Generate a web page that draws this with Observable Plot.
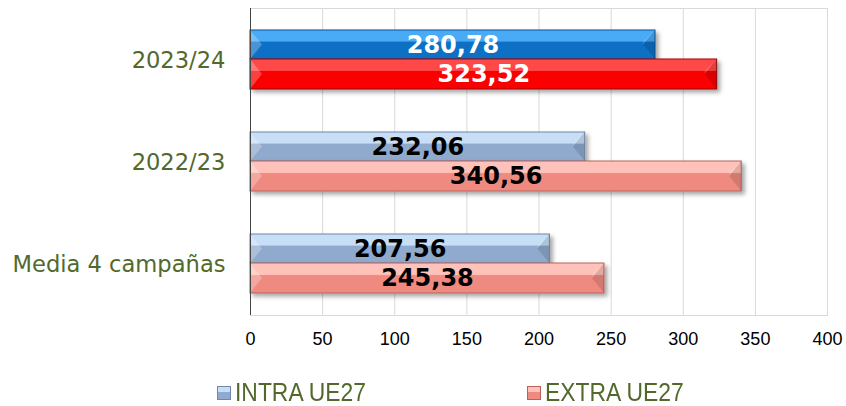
<!DOCTYPE html>
<html><head><meta charset="utf-8">
<script src="https://cdn.jsdelivr.net/npm/d3@7"></script>
<script src="https://cdn.jsdelivr.net/npm/@observablehq/plot@0.6"></script>
<style>
body{margin:0;background:#fff;width:846px;height:406px;overflow:hidden}
#legend{position:relative;height:41px;font-family:"Liberation Sans",sans-serif;font-size:26px;color:#53692c}
.item{position:absolute;top:12px;display:flex;align-items:center;white-space:nowrap}
.sw{width:14px;height:14px;margin-right:4px;box-sizing:border-box;border:1px solid #777;}
.lt{display:inline-block;transform:scaleX(0.88);transform-origin:left center}
</style></head><body>
<div id="chart"></div>
<div id="legend"></div>
<script>
const categories = ["2023/24", "2022/23", "Media 4 campañas"];
const intraValues = [280.78, 232.06, 207.56];
const extraValues = [323.52, 340.56, 245.38];
const seriesNames = ["INTRA UE27", "EXTRA UE27"];
const xTicks = [0, 50, 100, 150, 200, 250, 300, 350, 400];

// styles
const palette = {
  intraHi: {light: "#4aaaf6", base: "#0d6fc4", stroke: "#0a5596"},
  extraHi: {light: "#ff4a4a", base: "#fa0000", stroke: "#a00000"},
  intra:   {light: "#c8def6", base: "#8faacd", stroke: "#6f88aa"},
  extra:   {light: "#ffc2ba", base: "#ef8a80", stroke: "#b8625a"}
};
const olive = "#53692c";

const rows = categories.flatMap((c, i) => [
  {category: c, series: seriesNames[0], value: intraValues[i], style: i === 0 ? "intraHi" : "intra", slot: 0, labelFill: i === 0 ? "white" : "black"},
  {category: c, series: seriesNames[1], value: extraValues[i], style: i === 0 ? "extraHi" : "extra", slot: 1, labelFill: i === 0 ? "white" : "black"}
]);

const fmt = v => v.toFixed(2).replace(".", ",");
const insets = [{top: 21, bottom: 52, dy: -15}, {top: 50, bottom: 22, dy: 14}];

const barMarks = rows.map(r => Plot.barX([r], {
  x: "value", y: "category",
  insetTop: insets[r.slot].top, insetBottom: insets[r.slot].bottom,
  fill: `url(#grad-${r.style})`, stroke: palette[r.style].stroke, strokeWidth: 1,
  className: "bevelbar"
}));

// bevel triangles drawn with the plot scales
function bevelMark(index, scales, values, dimensions) {
  const {x, y} = scales;
  const bw = y.bandwidth ? y.bandwidth() : (dimensions.height - dimensions.marginTop - dimensions.marginBottom) / categories.length;
  const g = d3.create("svg:g");
  for (const r of rows) {
    const x0 = x(0), x1 = x(r.value);
    const y0 = y(r.category) + insets[r.slot].top;
    const y1 = y(r.category) + bw - insets[r.slot].bottom;
    const h = y1 - y0, d = Math.min(12, h / 2);
    g.append("path").attr("d", `M${x0},${y0}L${x0 + d},${y0 + h / 2}L${x0},${y1}Z`).attr("fill", "white").attr("fill-opacity", 0.25);
    g.append("path").attr("d", `M${x1},${y0}L${x1 - d},${y0 + h / 2}L${x1},${y1}Z`).attr("fill", "black").attr("fill-opacity", 0.12);
    g.append("path").attr("d", `M${x1},${y0}L${x1 - d},${y0 + h / 2}L${x1 - d},${y0 + h * 0.4}Z`).attr("fill", "white").attr("fill-opacity", 0.15);
  }
  return g.node();
}

const plot = Plot.plot({
  width: 846, height: 365,
  marginLeft: 250, marginRight: 19, marginTop: 8, marginBottom: 50,
  x: {domain: [0, 400], ticks: xTicks, label: null},
  y: {domain: categories, padding: 0, label: null},
  style: {background: "white"},
  marks: [
    Plot.gridX(xTicks, {stroke: "#d9d9d9", strokeOpacity: 1}),
    Plot.frame({stroke: "#d9d9d9"}),
    ...barMarks,
    bevelMark,
    Plot.ruleX([0], {stroke: "#444"}),
    ...rows.map(r => Plot.text([r], {
      x: d => d.value / 2, y: "category", text: d => fmt(d.value),
      dy: insets[r.slot].dy, fill: r.labelFill,
      fontSize: 24, fontWeight: "bold", fontFamily: "DejaVu Sans"
    })),
    Plot.axisX(xTicks, {tickSize: 0, tickPadding: 17, fontSize: 18, fontFamily: "Liberation Sans", fill: "black", label: null}),
    Plot.axisY({tickSize: 0, tickPadding: 25, fontSize: 22.6, fontFamily: "DejaVu Sans", fill: olive, label: null})
  ]
});

const svg = d3.select(plot);
const defs = svg.insert("defs", ":first-child");
for (const [k, p] of Object.entries(palette)) {
  const lg = defs.append("linearGradient").attr("id", `grad-${k}`).attr("x1", 0).attr("y1", 0).attr("x2", 0).attr("y2", 1);
  lg.append("stop").attr("offset", "0%").attr("stop-color", p.light);
  lg.append("stop").attr("offset", "38%").attr("stop-color", p.light);
  lg.append("stop").attr("offset", "42%").attr("stop-color", p.base);
  lg.append("stop").attr("offset", "100%").attr("stop-color", p.base);
}
const f = defs.append("filter").attr("id", "shadow").attr("x", "-5%").attr("y", "-30%").attr("width", "115%").attr("height", "170%");
f.append("feDropShadow").attr("dx", 3).attr("dy", 3).attr("stdDeviation", 2).attr("flood-color", "#000").attr("flood-opacity", 0.35);
svg.selectAll(".bevelbar").attr("filter", "url(#shadow)");
document.getElementById("chart").appendChild(plot);

// legend
const legend = document.getElementById("legend");
const legendPos = [217, 527];
seriesNames.forEach((s, i) => {
  const p = palette[i === 0 ? "intra" : "extra"];
  const it = document.createElement("div");
  it.className = "item"; it.style.left = legendPos[i] + "px";
  it.innerHTML = `<span class="sw" style="background:linear-gradient(${p.light} 0 40%, ${p.base} 40% 100%);border-color:${p.stroke}"></span><span class="lt">${s}</span>`;
  legend.appendChild(it);
});
</script>
</body></html>
